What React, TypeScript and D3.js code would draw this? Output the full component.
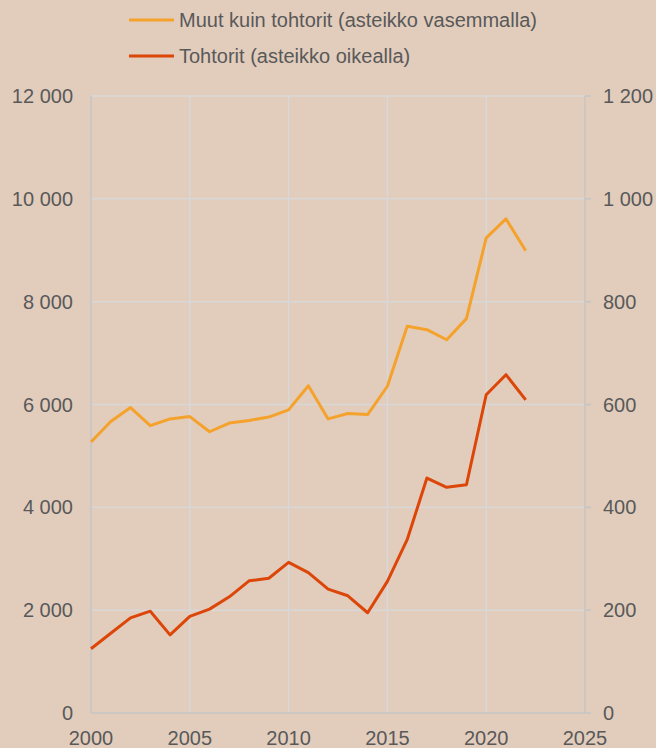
import React from "react";
import * as d3 from "d3";

const years = [2000,2001,2002,2003,2004,2005,2006,2007,2008,2009,2010,2011,2012,2013,2014,2015,2016,2017,2018,2019,2020,2021,2022];
const muut = [5270,5670,5940,5590,5720,5765,5470,5640,5690,5755,5895,6365,5720,5825,5805,6355,7520,7455,7260,7670,9240,9610,8990];
const tohtorit = [125,155,185,198,152,188,202,226,257,262,293,273,241,228,195,256,337,457,439,444,619,658,609];
const xTicks = [2000,2005,2010,2015,2020,2025];
const leftTicks = [0,2000,4000,6000,8000,10000,12000];
const rightTicks = [0,200,400,600,800,1000,1200];
const seriesNames = ["Muut kuin tohtorit (asteikko vasemmalla)", "Tohtorit (asteikko oikealla)"];
const colors = ["#f5a22c", "#dc4609"];

const W = 656, H = 748;
const left = 91, right = 585, top = 96, bottom = 713;

const fmt = (v: number) => {
  const s = String(v);
  return s.length > 3 ? s.slice(0, s.length - 3) + " " + s.slice(-3) : s;
};

export default function App() {
  const x = d3.scaleLinear().domain([2000, 2025]).range([left, right]);
  const yL = d3.scaleLinear().domain([0, 12000]).range([bottom, top]);
  const yR = d3.scaleLinear().domain([0, 1200]).range([bottom, top]);
  const lineL = d3.line<number>().x((_, i) => x(years[i])).y(d => yL(d));
  const lineR = d3.line<number>().x((_, i) => x(years[i])).y(d => yR(d));
  const font = "'Liberation Sans', Arial, sans-serif";
  const textColor = "#595959";
  const fs = 20;
  return (
    <svg width={W} height={H} style={{ position: "absolute", left: 0, top: 0, background: "#e2cdbd" }}>
      <rect x={0} y={0} width={W} height={H} fill="#e2cdbd" />
      {leftTicks.map(t => t > 0 && (
        <line key={"h" + t} x1={left} x2={right} y1={yL(t)} y2={yL(t)} stroke="#d8d8d8" strokeWidth={1.5} />
      ))}
      {xTicks.map(t => t > 2000 && t < 2025 && (
        <line key={"v" + t} x1={x(t)} x2={x(t)} y1={top} y2={bottom} stroke="#d8d8d8" strokeWidth={1.5} />
      ))}
      <line x1={left} x2={left} y1={top} y2={bottom} stroke="#c4c4c4" strokeWidth={1.5} />
      <line x1={right} x2={right} y1={top} y2={bottom} stroke="#c4c4c4" strokeWidth={1.5} />
      <line x1={left} x2={right} y1={bottom} y2={bottom} stroke="#c4c4c4" strokeWidth={1.5} />
      {rightTicks.map(t => (
        <line key={"rt" + t} x1={right} x2={right + 6} y1={yR(t)} y2={yR(t)} stroke="#c4c4c4" strokeWidth={1.5} />
      ))}
      {leftTicks.map(t => (
        <text key={"lt" + t} x={73} y={yL(t)} dy="0.35em" textAnchor="end" fontFamily={font} fontSize={fs} fill={textColor}>{fmt(t)}</text>
      ))}
      {rightTicks.map(t => (
        <text key={"rl" + t} x={603} y={yR(t)} dy="0.35em" textAnchor="start" fontFamily={font} fontSize={fs} fill={textColor}>{fmt(t)}</text>
      ))}
      {xTicks.map(t => (
        <text key={"xl" + t} x={x(t)} y={745} textAnchor="middle" fontFamily={font} fontSize={fs} fill={textColor}>{t}</text>
      ))}
      <path d={lineL(muut) || ""} fill="none" stroke={colors[0]} strokeWidth={3} strokeLinejoin="round" />
      <path d={lineR(tohtorit) || ""} fill="none" stroke={colors[1]} strokeWidth={3} strokeLinejoin="round" />
      {seriesNames.map((n, i) => (
        <g key={n}>
          <line x1={129} x2={174} y1={20 + i * 36} y2={20 + i * 36} stroke={colors[i]} strokeWidth={3} />
          <text x={179} y={20 + i * 36} dy="0.35em" fontFamily={font} fontSize={fs} fill={textColor}>{n}</text>
        </g>
      ))}
    </svg>
  );
}
